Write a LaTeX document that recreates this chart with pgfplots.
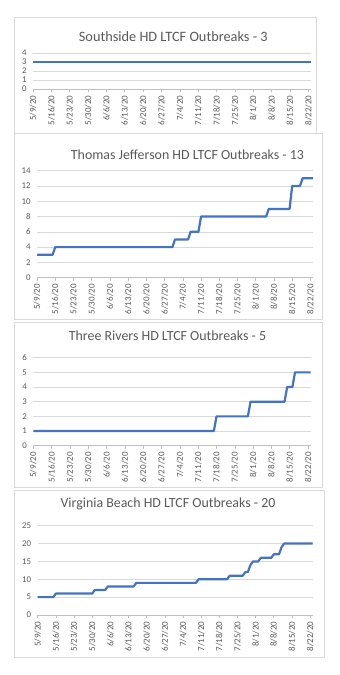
\documentclass[border=0pt]{standalone}
\usepackage{pgfplots}
\pgfplotsset{compat=1.18}
\usepackage{fontspec}
\setmainfont{Carlito}
\definecolor{exblue}{HTML}{4472C4}
\definecolor{exgrid}{HTML}{D9D9D9}
\definecolor{exaxis}{HTML}{BFBFBF}
\definecolor{extext}{HTML}{595959}
\definecolor{exframe}{HTML}{D9D9D9}
\pgfplotsset{
  exstyle/.style={
    scale only axis,
    anchor=south west,
    xmin=0, xmax=106,
    ymin=0,
    xtick={0,7,...,105},
    xticklabels={5/9/20,5/16/20,5/23/20,5/30/20,6/6/20,6/13/20,6/20/20,6/27/20,7/4/20,7/11/20,7/18/20,7/25/20,8/1/20,8/8/20,8/15/20,8/22/20},
    axis x line*=bottom,
    axis y line*=left,
    x axis line style={draw=exaxis, line width=0.6pt},
    y axis line style={draw=none},
    xtick style={draw=exaxis, line width=0.6pt},
    ytick style={draw=none},
    tick align=outside,
    major tick length=3pt,
    ymajorgrids,
    grid style={draw=exgrid, line width=0.6pt},
    xticklabel shift=2.5pt,
    xticklabel style={rotate=90, anchor=east, font=\fontsize{9}{10}\selectfont, text=extext, inner sep=1pt},
    yticklabel style={font=\fontsize{8.8}{10}\selectfont, text=extext},
    /pgf/number format/assume math mode=true,
  },
  exline/.style={color=exblue, line width=2.2pt, line join=round, mark=none},
}
\begin{document}
\begin{tikzpicture}
\path[use as bounding box] (0,0) rectangle (340pt,675pt);
% frames
\draw[exframe, line width=0.8pt] (14pt,658pt) rectangle (316pt,542pt);
\draw[exframe, line width=0.8pt] (14pt,542pt) rectangle (322pt,356pt);
\draw[exframe, line width=0.8pt] (14pt,353pt) rectangle (322pt,188pt);
\draw[exframe, line width=0.8pt] (14pt,185pt) rectangle (324pt,18pt);
% titles
\node[text=extext, font=\fontsize{14.3}{16}\selectfont] at (173.3pt,638pt) {Southside HD LTCF Outbreaks - 3};
\node[text=extext, font=\fontsize{13.9}{16}\selectfont] at (187.5pt,520.7pt) {Thomas Jefferson HD LTCF Outbreaks - 13};
\node[text=extext, font=\fontsize{13.9}{16}\selectfont] at (167.5pt,339pt) {Three Rivers HD LTCF Outbreaks - 5};
\node[text=extext, font=\fontsize{13.9}{16}\selectfont] at (168pt,171pt) {Virginia Beach HD LTCF Outbreaks - 20};
% panel 1
\begin{axis}[exstyle, at={(33pt,586pt)}, width=278pt, height=36pt, ymax=4, ytick={0,1,2,3,4}]
\addplot[exline] coordinates {(0,3) (106,3)};
\end{axis}
% panel 2
\begin{axis}[exstyle, at={(37pt,397.3pt)}, width=276pt, height=107pt, ymax=14, ytick={0,2,...,14}]
\addplot[exline] coordinates {(0,3) (6,3) (7,4) (52,4) (53,5) (58,5) (59,6) (62,6) (63,8) (88,8) (89,9) (97,9) (98,12) (101,12) (102,13) (106,13)};
\end{axis}
% panel 3
\begin{axis}[exstyle, at={(33.3pt,229.3pt)}, width=277.4pt, height=88pt, ymax=6, ytick={0,1,...,6}]
\addplot[exline] coordinates {(0,1) (69,1) (70,2) (82,2) (83,3) (96,3) (97,4) (99,4) (100,5) (106,5)};
\end{axis}
% panel 4
\begin{axis}[exstyle, at={(37.7pt,60pt)}, width=275pt, height=89.3pt, ymax=25, ytick={0,5,...,25}]
\addplot[exline] coordinates {(0,5) (6,5) (7,6) (21,6) (22,7) (26,7) (27,8) (37,8) (38,9) (61,9) (62,10) (73,10) (74,11) (79,11) (80,12) (81,12) (82,14) (83,15) (85,15) (86,16) (90,16) (91,17) (93,17) (94,19) (95,20) (106,20)};
\end{axis}
\end{tikzpicture}
\end{document}
